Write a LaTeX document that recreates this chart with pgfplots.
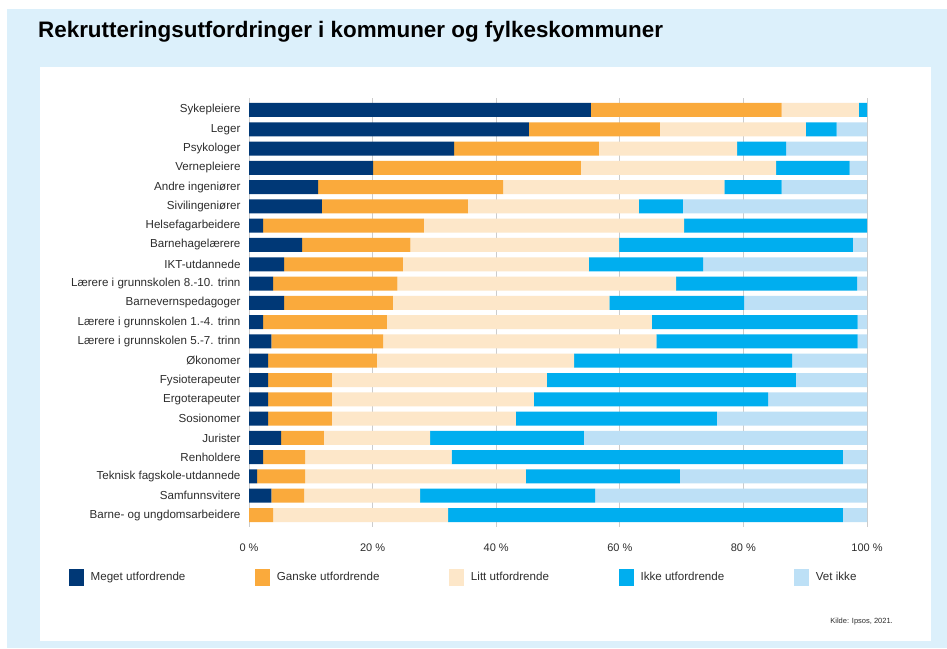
\documentclass[border=0pt]{standalone}
\usepackage{pgfplots}
\pgfplotsset{compat=1.18}
\usepackage{pgfplotstable}
\usepackage{fontspec}
\setmainfont{Liberation Sans}
\definecolor{cNavy}{RGB}{0,56,118}
\definecolor{cOrange}{RGB}{250,170,60}
\definecolor{cPeach}{RGB}{253,231,201}
\definecolor{cBlue}{RGB}{0,174,239}
\definecolor{cLight}{RGB}{189,224,246}
\definecolor{cBg}{RGB}{220,240,251}
\definecolor{cText}{RGB}{45,45,45}

\pgfplotstableread{
idx a b c d e
0  55.3 30.9 12.5 1.3 0
1  45.3 21.2 23.6 5.0 4.9
2  33.2 23.4 22.4 7.9 13.1
3  20.1 33.6 31.6 11.9 2.8
4  11.2 29.9 35.8 9.3 13.8
5  11.8 23.6 27.7 7.1 29.8
6  2.3 26.0 42.1 29.6 0
7  8.6 17.5 33.8 37.8 2.3
8  5.7 19.2 30.1 18.5 26.5
9  3.9 20.1 45.1 29.3 1.6
10 5.7 17.6 35.0 21.8 19.9
11 2.3 20.0 42.9 33.3 1.5
12 3.6 18.1 44.2 32.6 1.5
13 3.1 17.6 31.9 35.3 12.1
14 3.1 10.3 34.8 40.3 11.5
15 3.1 10.3 32.7 37.9 16.0
16 3.1 10.3 29.8 32.5 24.3
17 5.2 6.9 17.2 24.9 45.8
18 2.3 6.8 23.7 63.3 3.9
19 1.3 7.8 35.7 24.9 30.3
20 3.6 5.3 18.8 28.3 44.0
21 0 3.9 28.3 63.9 3.9
}\datatable

\begin{document}
\begin{tikzpicture}
\useasboundingbox (0pt,0pt) rectangle (947pt,648pt);
\fill[white] (0pt,0pt) rectangle (947pt,648pt);
\fill[cBg] (7pt,0pt) rectangle (947pt,639pt);
\fill[white] (40pt,7pt) rectangle (931pt,581pt);
\node[anchor=west, font=\fontsize{22.4}{26}\selectfont\bfseries, inner sep=0pt] at (38pt,616pt) {Rekrutteringsutfordringer i kommuner og fylkeskommuner};
\node[anchor=east, font=\fontsize{7.5}{9}\selectfont, text=cText, inner sep=0pt] at (893pt,26pt) {Kilde: Ipsos, 2021.};
\begin{axis}[
  at={(249pt,121.4pt)}, anchor=south west,
  scale only axis, width=618pt, height=428.2pt,
  xbar stacked, bar width=14pt,
  xmin=0, xmax=100, ymin=-0.6, ymax=21.6, y dir=reverse,
  ytick={0,...,21},
  yticklabels={Sykepleiere,Leger,Psykologer,Vernepleiere,Andre ingeniører,Sivilingeniører,Helsefagarbeidere,Barnehagelærere,IKT-utdannede,Lærere i grunnskolen 8.-10. trinn,Barnevernspedagoger,Lærere i grunnskolen 1.-4. trinn,Lærere i grunnskolen 5.-7. trinn,Økonomer,Fysioterapeuter,Ergoterapeuter,Sosionomer,Jurister,Renholdere,Teknisk fagskole-utdannede,Samfunnsvitere,Barne- og ungdomsarbeidere},
  xtick={0,20,40,60,80,100},
  xticklabels={0 \%,20 \%,40 \%,60 \%,80 \%,100 \%},
  xmajorgrids, grid style={draw=black!20, line width=0.8pt},
  axis line style={draw=none},
  major tick length=0pt,
  tick label style={text=cText},
  xticklabel style={font=\fontsize{11}{13}\selectfont, yshift=-13.7pt},
  yticklabel style={font=\fontsize{11.6}{13}\selectfont, xshift=-5pt},
  legend columns=5,
  legend image code/.code={\fill[#1,draw=none] (0pt,-8.5pt) rectangle (14.5pt,8.5pt);},
  legend style={at={(-0.2913,-0.1177)}, anchor=west, draw=none, fill=none, inner sep=0pt,
    font=\fontsize{11.6}{13}\selectfont, text=cText,
    /tikz/every odd column/.append style={column sep=5pt},
    /tikz/every even column/.append style={column sep=68pt}},
]
\addplot[fill=cNavy, draw=none] table[x=a, y=idx]{\datatable};
\addplot[fill=cOrange, draw=none] table[x=b, y=idx]{\datatable};
\addplot[fill=cPeach, draw=none] table[x=c, y=idx]{\datatable};
\addplot[fill=cBlue, draw=none] table[x=d, y=idx]{\datatable};
\addplot[fill=cLight, draw=none] table[x=e, y=idx]{\datatable};
\legend{Meget utfordrende, Ganske utfordrende, Litt utfordrende, Ikke utfordrende, Vet ikke}
\end{axis}
\end{tikzpicture}
\end{document}
